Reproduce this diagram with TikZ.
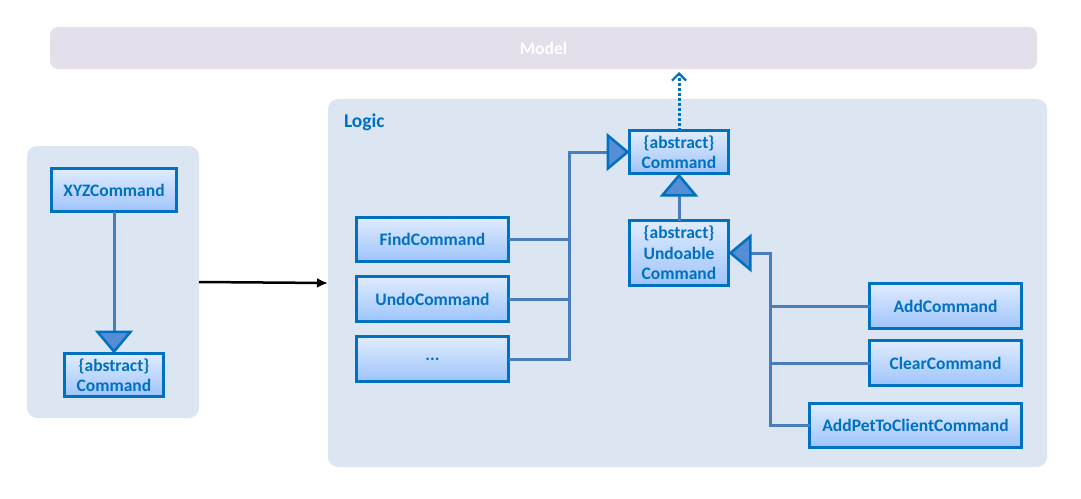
\documentclass[tikz,border=0pt]{standalone}
\usepackage{fontspec}
\setmainfont{Carlito}
\usepackage{tikz}
\definecolor{c0070C0}{RGB}{0,112,192}
\definecolor{cDEEBFF}{RGB}{224,236,255}
\definecolor{c9BC2FA}{RGB}{158,196,250}
\definecolor{c4A7EBB}{RGB}{74,126,187}
\definecolor{c558ED5}{RGB}{85,142,213}
\definecolor{cDCE6F2}{RGB}{220,230,242}
\definecolor{cE5DFEC}{RGB}{229,223,236}
\usetikzlibrary{arrows.meta,calc}

\begin{document}
\begin{tikzpicture}[y=1pt,x=1pt,yscale=-1, inner sep=0pt, outer sep=0pt,
    cont/.style={fill=cDCE6F2,rounded corners=10pt},
    cls/.style={draw=c0070C0,line width=3pt,top color=cDEEBFF,bottom color=c9BC2FA,
      text=c0070C0,font=\fontsize{17.5}{20.5}\selectfont\bfseries,align=center},
    link/.style={draw=c4A7EBB,line width=3pt},
    gen/.style={link,-{Triangle[length=23pt,width=38pt,fill=c558ED5,color=c0070C0,line width=2.5pt]}}]
  \useasboundingbox (0,0) rectangle (1081,498);
  \node[fill=cE5DFEC,rounded corners=8pt,minimum width=987pt,minimum height=42pt,
    text=white,font=\fontsize{17.5}{20}\selectfont\bfseries] (model) at (543.5,48) {Model};
  \node[cont,minimum width=172pt,minimum height=272pt] (left) at (113,282) {};
  \node[cont,minimum width=719pt,minimum height=368pt] (logic) at (687.5,283) {};
  \node[anchor=west,text=c0070C0,font=\fontsize{19.5}{22}\selectfont\bfseries] (logicLbl)
    at (344,122) {Logic};

  \node[cls,minimum width=125pt,minimum height=43pt] (xyz) at (114,190) {XYZCommand};
  \node[cls,minimum width=99pt,minimum height=43pt] (cmdL) at (114,375)
    {\{abstract\}\\Command};
  \node[cls,minimum width=99pt,minimum height=43pt] (cmd) at (679,152)
    {\{abstract\}\\Command};
  \node[cls,minimum width=99pt,minimum height=65pt] (undoable) at (679,253)
    {\{abstract\}\\Undoable\\Command};
  \node[cls,minimum width=152pt,minimum height=44pt] (find) at (432.5,239.5) {FindCommand};
  \node[cls,minimum width=152pt,minimum height=45pt] (undo) at (432.5,299) {UndoCommand};
  \node[cls,minimum width=152pt,minimum height=45pt] (dots) at (432.5,359) {...};
  \node[cls,minimum width=152pt,minimum height=45pt] (add) at (945.5,306) {AddCommand};
  \node[cls,minimum width=152pt,minimum height=45pt] (clear) at (945.5,363) {ClearCommand};
  \node[cls,minimum width=212pt,minimum height=44pt] (addPet) at (915.5,425.5)
    {AddPetToClientCommand};

  \coordinate (busL) at (569,152);
  \coordinate (busR) at (770,253);

  \draw[-{Latex[length=11pt,width=10pt]},line width=2.5pt] (left.east) -- (logic.west);
  \draw[gen] (xyz.south) -- (cmdL.north);
  \draw[gen] (dots.east) -| (busL) -- (cmd.west);
  \draw[link] (find.east) -- (find.east -| busL);
  \draw[link] (undo.east) -- (undo.east -| busL);
  \draw[gen] (undoable.north) -- (cmd.south);
  \draw[gen] (addPet.west) -| (busR) -- (undoable.east);
  \draw[link] (add.west) -- (add.west -| busR);
  \draw[link] (clear.west) -- (clear.west -| busR);
  \draw[draw=c0070C0,line width=3pt,dotted,shorten >=3pt,
    -{Straight Barb[length=7pt,width=14pt,line width=2.2pt]}] (cmd.north) -- (cmd.north |- model.south);
\end{tikzpicture}
\end{document}
